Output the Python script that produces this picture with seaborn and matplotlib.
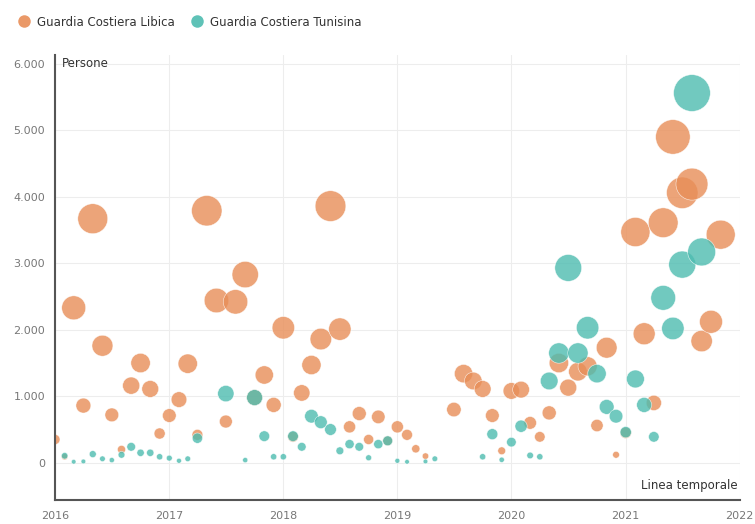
import matplotlib
matplotlib.use("Agg")
import matplotlib.pyplot as plt
import matplotlib.dates as mdates
from matplotlib.lines import Line2D
from matplotlib.ticker import FuncFormatter
import pandas as pd
import seaborn as sns

# Monthly data, Jan 2016 - Nov 2021 (None = no data that month)
mesi = pd.date_range("2016-01-01", periods=71, freq="MS")

libia = [350, 90, 2330, 860, 3670, 1760, 720, 200, 1160, 1500, 1110, 440,
         710, 950, 1490, 420, 3790, 2440, 620, 2420, 2830, 980, 1320, 870,
         2030, 390, 1050, 1470, 1860, 3860, 2010, 540, 740, 350, 690, 330,
         540, 420, 210, 100, None, None, 800, 1340, 1230, 1110, 710, 180,
         1080, 1100, 600, 390, 750, 1500, 1130, 1370, 1450, 560, 1730, 120,
         450, 3470, 1940, 900, 3610, 4900, 4060, 4190, 1830, 2120, 3430]

tunisia = [None, 105, 15, 20, 130, 60, 40, 120, 240, 150, 150, 90,
           70, 30, 60, 370, None, None, 1040, None, 40, 980, 400, 90,
           90, 400, 240, 700, 610, 500, 180, 280, 240, 75, 280, 330,
           30, 15, None, 20, 60, None, None, None, None, 90, 430, 45,
           310, 550, 110, 90, 1230, 1650, 2930, 1650, 2030, 1340, 840, 700,
           460, 1260, 870, 390, 2480, 2020, 2980, 5560, 3170, None, None]

serie = ["Guardia Costiera Libica", "Guardia Costiera Tunisina"]
colori = ["#E88E58", "#4DBCB0"]

df = pd.concat([
    pd.DataFrame({"mese": mesi, "persone": libia, "serie": serie[0]}),
    pd.DataFrame({"mese": mesi, "persone": tunisia, "serie": serie[1]}),
]).dropna()

sns.set_style("white")
plt.rcParams["font.family"] = ["DejaVu Sans"]

fig = plt.figure(figsize=(7.55, 5.24), dpi=100)
ax = fig.add_axes([0.0728, 0.0458, 0.907, 0.849])

sns.scatterplot(data=df, x="mese", y="persone", hue="serie", hue_order=serie,
                palette=colori, size="persone", sizes=(9, 700),
                size_norm=(0, 5560), alpha=0.8, edgecolor="white",
                linewidth=0.4, legend=False, ax=ax)

ax.set_xlim(pd.Timestamp("2016-01-01"), pd.Timestamp("2022-01-01"))
ax.set_ylim(-560, 6130)
ax.set_yticks(range(0, 6001, 1000))
ax.yaxis.set_major_formatter(FuncFormatter(lambda v, p: f"{v:,.0f}".replace(",", ".")))
ax.xaxis.set_major_locator(mdates.YearLocator())
ax.xaxis.set_major_formatter(mdates.DateFormatter("%Y"))
ax.set_xlabel("")
ax.set_ylabel("")

ax.grid(True, color="#ededed", linewidth=0.8)
ax.set_axisbelow(True)
ax.tick_params(axis="y", length=0, labelsize=8, labelcolor="#777777", pad=7)
ax.tick_params(axis="x", length=0, labelsize=8, labelcolor="#777777", pad=8)
for s in ["top", "right"]:
    ax.spines[s].set_visible(False)
for s in ["left", "bottom"]:
    ax.spines[s].set_color("#555555")
    ax.spines[s].set_linewidth(1.5)

ax.annotate("Persone", xy=(0.01, 6000), xycoords=("axes fraction", "data"),
            va="center", ha="left", fontsize=8.5, color="#333333")
ax.annotate("Linea temporale", xy=(0.997, -340), xycoords=("axes fraction", "data"),
            va="center", ha="right", fontsize=8.5, color="#333333")

handles = [Line2D([], [], marker="o", linestyle="", markersize=9,
                  markerfacecolor=c, markeredgecolor="none", alpha=0.9) for c in colori]
fig.legend(handles, serie, loc="center left", bbox_to_anchor=(0.002, 1 - 22 / 524),
           ncol=2, frameon=False, fontsize=8.5, handletextpad=0.1,
           columnspacing=0.9, labelcolor="#333333")

fig.savefig("out.png", dpi=100)
